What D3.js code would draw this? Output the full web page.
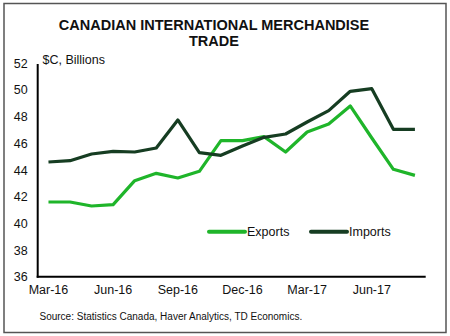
<!DOCTYPE html>
<html><head><meta charset="utf-8">
<script src="https://cdn.jsdelivr.net/npm/d3@7"></script>
<style>body{margin:0;background:#fff}svg{display:block}text{font-family:"Liberation Sans",Arial,sans-serif}</style>
</head><body><svg id="c" width="450" height="336"></svg>
<script>
const months = ["Mar-16","Apr-16","May-16","Jun-16","Jul-16","Aug-16","Sep-16","Oct-16","Nov-16","Dec-16","Jan-17","Feb-17","Mar-17","Apr-17","May-17","Jun-17","Jul-17","Aug-17"];
const exportsData = [41.6,41.6,41.3,41.4,43.2,43.75,43.4,43.9,46.2,46.2,46.5,45.35,46.85,47.45,48.8,46.4,44.05,43.6];
const importsData = [44.6,44.7,45.2,45.4,45.35,45.65,47.75,45.3,45.1,45.8,46.45,46.7,47.6,48.45,49.9,50.1,47.05,47.05];
const xTickLabels = ["Mar-16","Jun-16","Sep-16","Dec-16","Mar-17","Jun-17"];
const yTicks = [36,38,40,42,44,46,48,50,52];
const seriesNames = ["Exports","Imports"];
const colors = ["#1fb52a","#163d22"];

const svg = d3.select("#c");
svg.append("rect").attr("x",4).attr("y",3.5).attr("width",442).attr("height",329)
  .attr("fill","#fff").attr("stroke","#555").attr("stroke-width",1.5);

const x = d3.scaleBand().domain(months).range([37.7,425.7]);
const y = d3.scaleLinear().domain([36,52]).range([276.7,63.3]);
const cx = m => x(m) + x.bandwidth()/2;

svg.append("text").attr("x",214).attr("y",30).attr("text-anchor","middle")
  .attr("font-size",14.5).attr("font-weight","bold").attr("fill","#111").text("CANADIAN INTERNATIONAL MERCHANDISE");
svg.append("text").attr("x",214).attr("y",46).attr("text-anchor","middle")
  .attr("font-size",14.5).attr("font-weight","bold").attr("fill","#111").text("TRADE");
svg.append("text").attr("x",42.5).attr("y",64).attr("font-size",12.5).attr("fill","#111").text("$C, Billions");

// y axis
const yAxis = d3.axisLeft(y).tickValues(yTicks).tickSize(0).tickPadding(10);
const gy = svg.append("g").attr("transform","translate(37.7,0)").call(yAxis);
gy.select(".domain").remove();
gy.selectAll("text").attr("font-size",12.5).attr("fill","#111").attr("font-family","'Liberation Sans',Arial,sans-serif");
svg.append("line").attr("x1",37.7).attr("x2",37.7).attr("y1",64).attr("y2",y(36)+1)
  .attr("stroke","#000").attr("stroke-width",2);

// x axis
const xAxis = d3.axisBottom(x).tickValues(xTickLabels).tickSize(0).tickPadding(8);
const gx = svg.append("g").attr("transform",`translate(0,${y(36)})`).call(xAxis);
gx.select(".domain").remove();
gx.selectAll("text").attr("font-size",12.5).attr("fill","#111").attr("font-family","'Liberation Sans',Arial,sans-serif");
svg.append("line").attr("x1",36.7).attr("x2",425.7).attr("y1",y(36)).attr("y2",y(36))
  .attr("stroke","#000").attr("stroke-width",2);

const line = d3.line().x((d,i)=>cx(months[i])).y(d=>y(d));
[exportsData, importsData].forEach((s,k)=>{
  svg.append("path").datum(s).attr("d",line).attr("fill","none")
    .attr("stroke",colors[k]).attr("stroke-width",3.2).attr("stroke-linejoin","round");
});

// legend
const legX = [209, 311];
seriesNames.forEach((n,k)=>{
  svg.append("line").attr("x1",legX[k]).attr("x2",legX[k]+36).attr("y1",231.7).attr("y2",231.7)
    .attr("stroke",colors[k]).attr("stroke-width",4).attr("stroke-linecap","round");
  svg.append("text").attr("x",legX[k]+38).attr("y",236).attr("font-size",12.5).attr("fill","#111").text(n);
});

svg.append("text").attr("x",39.5).attr("y",320).attr("font-size",10).attr("fill","#111")
  .text("Source: Statistics Canada, Haver Analytics, TD Economics.");
</script></body></html>
